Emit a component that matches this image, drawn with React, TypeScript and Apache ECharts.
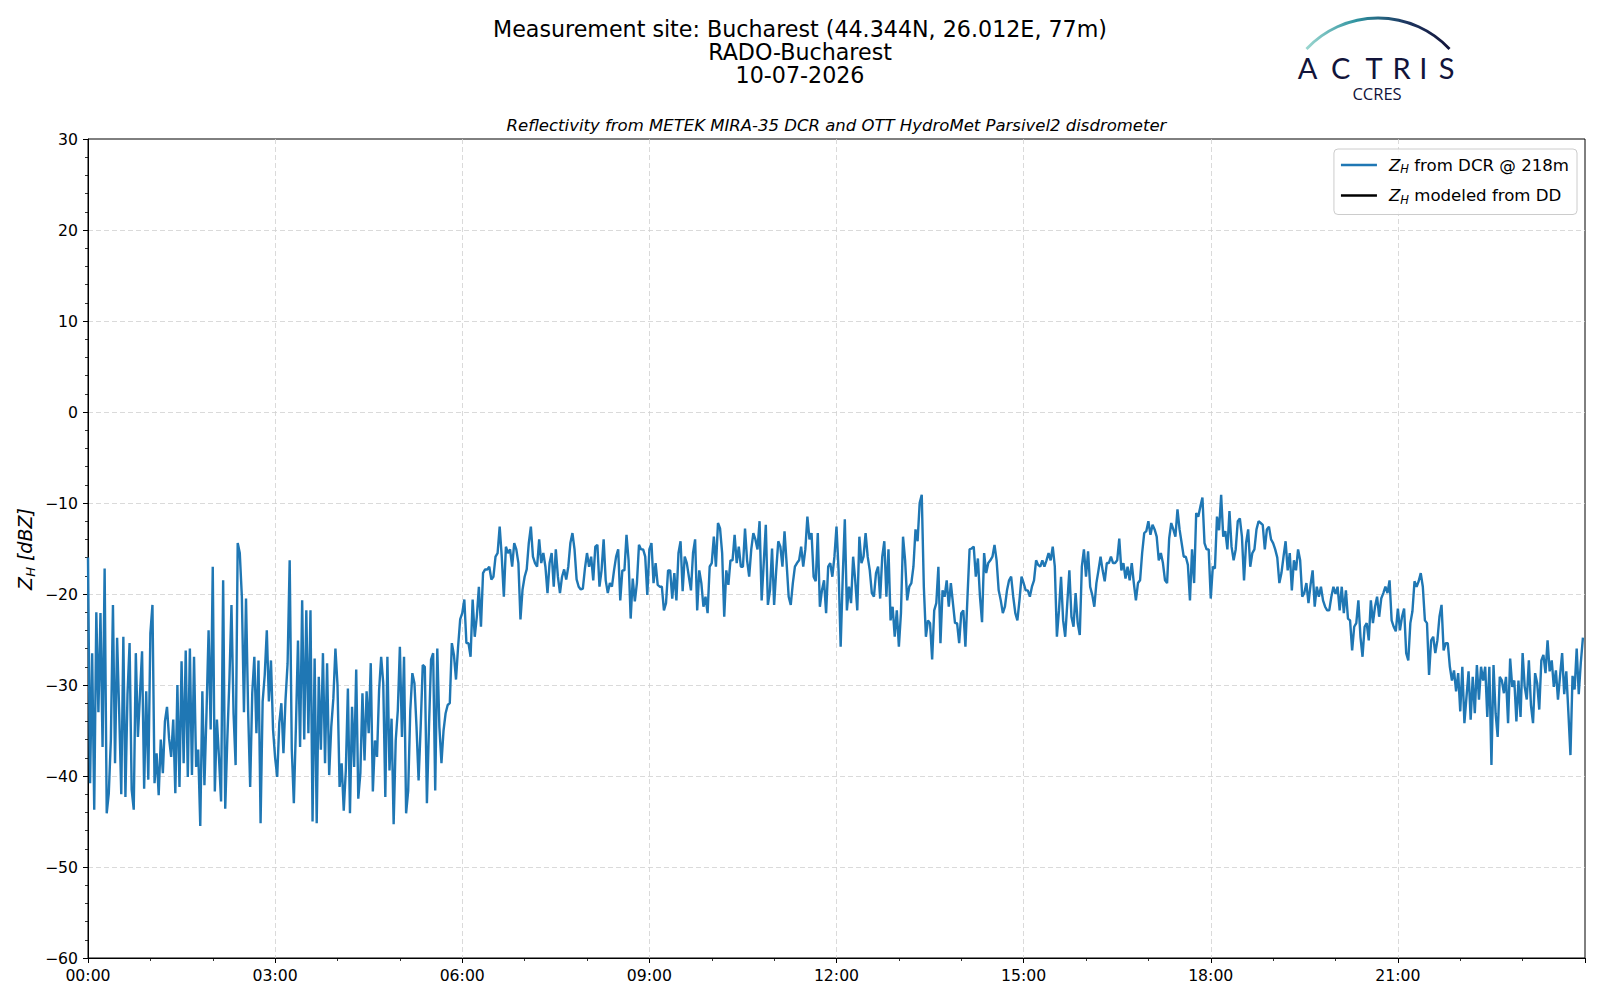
import React, { useEffect, useRef } from "react";
import * as echarts from "echarts";

// Reflectivity Z_H (dBZ), 2-minute steps, one array per hour
const H00 = [-16, -40.8, -26.5, -43.7, -22, -33, -22.1, -36.8, -17.2, -44.1, -41.9, -36, -21.2, -38.6, -24.8, -33, -42, -24.7, -42.3, -31, -25.4, -41.5, -43.7, -26.5, -35.7, -31, -26.3, -41.4, -30.7, -40.4];
const H01 = [-24.3, -21.2, -40.8, -37.5, -42.1, -36, -39.7, -34, -32.4, -35.9, -37.9, -33.8, -41.9, -30, -41.2, -27.4, -38.6, -26.2, -40.1, -26, -39.9, -26.9, -39, -37.1, -45.5, -30.7, -41, -33, -24, -34.9];
const H02 = [-17, -41.7, -33.8, -38, -42.8, -18.5, -43.6, -36, -29.5, -21.2, -33.1, -38.8, -14.4, -15.5, -20.3, -33, -20.5, -32.7, -41.2, -30.9, -26.9, -35.3, -27.3, -45.2, -31.8, -28.9, -24, -31.8, -27.3, -34.9];
const H03 = [-38, -40.1, -34.2, -32, -37.5, -31.6, -27.6, -16.3, -37, -43, -34.6, -25.1, -36.8, -20.7, -36, -21.8, -35.3, -21.8, -45, -27.1, -45.2, -29.1, -37.1, -26.5, -38.6, -27.6, -39.9, -34.6, -31.5, -26];
const H04 = [-30, -41.2, -38.6, -43.8, -39.4, -30.4, -44.1, -32.4, -39.0, -28.3, -42.5, -39.7, -30.9, -38.3, -30.7, -35.3, -27.6, -41.7, -36.1, -37.9, -30.6, -26.9, -29.8, -42.3, -26.9, -39.4, -33.7, -45.3, -36.1, -32.8];
const H05 = [-25.8, -35.7, -26.9, -44.1, -41.6, -32.8, -28.7, -29.8, -34.6, -40.5, -34.6, -27.8, -28.0, -43.0, -34.6, -27.2, -26.5, -41.6, -26.0, -34.6, -38.6, -35.0, -33.1, -32.2, -32.0, -25.4, -26.7, -29.4, -25.8, -22.8];
const H06 = [-22.1, -20.6, -25.4, -25.4, -26.9, -20.6, -24.7, -22.5, -19.2, -23.6, -17.7, -17.3, -17.3, -17.0, -18.4, -18.1, -15.9, -15.5, -12.6, -15.9, -20.3, -14.8, -15.5, -15.1, -17.0, -14.4, -15.1, -16.6, -22.8, -19.5];
const H07 = [-18.1, -17.3, -14.4, -12.6, -15.9, -16.6, -17.0, -14.0, -16.6, -15.5, -17.0, -19.9, -16.6, -15.5, -19.2, -15.1, -18.1, -19.9, -18.1, -17.3, -18.4, -17.0, -14.4, -13.3, -15.1, -18.4, -19.2, -19.5, -19.4, -17.2];
const H08 = [-15.5, -17.0, -15.9, -18.5, -14.8, -14.6, -19.2, -17.4, -14.0, -18.5, -19.9, -18.8, -19.2, -17.4, -15.9, -15.1, -20.7, -17.4, -17.4, -13.5, -16.3, -22.7, -18.3, -20.8, -18.8, -14.6, -15.1, -15.1, -15.9, -20.1];
const H09 = [-15.1, -14.4, -18.8, -16.6, -19.0, -19.2, -19.2, -21.8, -21.0, -17.4, -17.4, -20.5, -17.7, -20.7, -15.5, -14.2, -19.7, -15.9, -16.6, -18.1, -19.6, -15.5, -14.0, -21.8, -17.4, -18.8, -21.4, -20.3, -22.1, -17.0];
const H10 = [-16.6, -13.7, -17.0, -12.2, -12.8, -15.5, -22.5, -17.4, -19.0, -16.3, -16.3, -13.5, -16.6, -14.8, -17.0, -17.0, -12.8, -16.3, -18.1, -15.1, -13.3, -14.0, -15.1, -12.0, -20.7, -16.6, -12.4, -21.2, -19.6, -15.0];
const H11 = [-21.2, -17.4, -14.2, -14.8, -17.0, -13.1, -16.6, -20.3, -21.2, -18.8, -17.0, -16.6, -16.3, -14.8, -17.0, -15.1, -11.5, -14.0, -13.3, -18.1, -18.6, -13.3, -21.4, -19.6, -18.5, -22.1, -17.0, -16.6, -18.1, -15.9];
const H12 = [-12.6, -17.4, -25.8, -18.1, -11.8, -21.8, -19.2, -21.0, -15.9, -18.5, -21.8, -13.7, -16.6, -15.9, -13.3, -15.9, -17.4, -19.9, -20.3, -17.7, -17.0, -20.5, -15.9, -14.2, -20.3, -15.1, -22.9, -21.4, -24.7, -21.8];
const H13 = [-25.8, -22.1, -13.7, -16.3, -20.7, -19.2, -18.8, -17.0, -12.9, -14.2, -10.0, -9.1, -19.2, -24.7, -22.9, -23.2, -27.2, -21.8, -21.0, -17.0, -25.4, -19.6, -20.3, -18.5, -21.4, -18.8, -21.0, -23.2, -23.2, -25.4];
const H14 = [-22.1, -21.8, -25.8, -20.3, -15.1, -15.0, -14.8, -18.1, -16.1, -20.3, -23.1, -15.5, -17.7, -16.6, -16.3, -15.9, -14.6, -16.3, -19.6, -20.7, -22.1, -21.4, -19.6, -18.5, -18.1, -20.3, -22.1, -22.9, -20.7, -18.1];
const H15 = [-18.8, -19.6, -19.6, -20.3, -19.2, -18.5, -16.3, -16.8, -17.0, -16.3, -17.0, -16.3, -15.5, -16.3, -14.8, -17.0, -24.7, -21.8, -18.1, -22.9, -24.7, -21.0, -17.4, -22.5, -23.6, -19.9, -23.2, -24.5, -17.0, -15.1];
const H16 = [-18.1, -15.3, -19.2, -20.1, -21.4, -18.8, -17.4, -15.9, -17.4, -18.6, -16.6, -16.6, -15.9, -16.6, -16.6, -16.3, -13.9, -17.4, -16.6, -18.3, -17.0, -18.5, -16.6, -18.8, -20.7, -18.8, -18.5, -15.5, -13.3, -13.1];
const H17 = [-12.0, -13.5, -12.4, -12.9, -13.7, -16.3, -15.5, -16.6, -18.5, -18.8, -13.9, -12.2, -12.9, -13.7, -10.7, -12.9, -14.4, -15.9, -15.9, -16.8, -20.7, -15.1, -18.8, -11.1, -11.5, -10.4, -9.4, -14.4, -15.1, -15.1];
const H18 = [-20.5, -17.0, -17.2, -11.5, -13.0, -9.1, -13.7, -13.1, -15.1, -10.9, -14.8, -16.3, -15.1, -12.0, -11.7, -13.7, -18.5, -14.4, -12.9, -17.0, -15.5, -15.1, -12.9, -12.0, -12.2, -12.4, -15.1, -12.9, -12.6, -14.0];
const H19 = [-14.4, -15.1, -16.0, -18.8, -17.7, -15.9, -14.2, -17.4, -15.5, -19.6, -16.3, -17.4, -15.1, -16.3, -20.3, -19.9, -18.8, -21.0, -19.0, -17.4, -21.4, -19.2, -20.3, -19.2, -20.7, -21.4, -21.8, -21.8, -20.3, -19.2];
const H20 = [-20.0, -19.2, -21.8, -19.2, -22.1, -19.6, -22.7, -22.9, -26.2, -23.6, -23.2, -20.7, -24.7, -26.9, -23.6, -23.2, -25.1, -20.7, -23.2, -21.4, -20.3, -22.5, -20.5, -19.9, -19.2, -19.9, -18.5, -22.9, -23.6, -24.1];
const H21 = [-21.6, -24.0, -22.5, -21.6, -26.5, -27.3, -23.2, -21.9, -18.6, -19.2, -18.6, -17.7, -19.2, -22.9, -23.2, -28.9, -25.1, -24.7, -26.5, -25.1, -22.5, -21.2, -26.2, -25.4, -25.4, -28.0, -29.5, -28.4, -30.7, -28.7];
const H22 = [-32.9, -28.0, -34.2, -31.3, -28.5, -33.8, -29.1, -33.1, -27.8, -31.6, -28.0, -29.5, -28.0, -33.5, -28.0, -38.8, -27.8, -33.1, -35.7, -29.1, -29.5, -30.9, -29.1, -34.2, -27.1, -30.2, -29.5, -34.0, -29.5, -33.5];
const H23 = [-26.5, -30.2, -31.6, -27.3, -32.2, -34.2, -28.7, -29.8, -32.7, -27.3, -26.7, -28.7, -25.1, -28.5, -27.3, -30.2, -28.4, -31.6, -29.0, -26.5, -31.0, -28.5, -33.0, -37.7, -29.0, -30.5, -26.0, -31.0, -27.5, -24.8];

const HOURLY = [H00, H01, H02, H03, H04, H05, H06, H07, H08, H09, H10, H11, H12, H13, H14, H15, H16, H17, H18, H19, H20, H21, H22, H23];

// modeled reflectivity from the disdrometer: no values in the picture
const DD_VALUES: number[][] = [];

const TITLE_LINES = [
  "Measurement site: Bucharest (44.344N, 26.012E, 77m)",
  "RADO-Bucharest",
  "10-07-2026",
];
const SUBTITLE = "Reflectivity from METEK MIRA-35 DCR and OTT HydroMet Parsivel2 disdrometer";
const SERIES_DCR = "Z_H from DCR @ 218m";
const SERIES_DD = "Z_H modeled from DD";
const LEGEND_TEXT: Record<string, string> = {
  [SERIES_DCR]: "{z|Z}{s|H}{t| from DCR @ 218m}",
  [SERIES_DD]: "{z|Z}{s|H}{t| modeled from DD}",
};
const X_MIN = 0;
const X_MAX = 24;
const X_STEP = 3;
const Y_MIN = -60;
const Y_MAX = 30;
const Y_STEP = 10;

const FONT = "'DejaVu Sans', sans-serif";
const NAVY = "#12143a";

function buildDcr(): number[][] {
  const pts: number[][] = [];
  HOURLY.forEach((arr, h) => {
    arr.forEach((v, i) => pts.push([h + i / arr.length, v]));
  });
  return pts;
}

function fmtHour(v: number): string {
  if (v >= 24) return "";
  return String(v).padStart(2, "0") + ":00";
}

function fmtY(v: number): string {
  return v < 0 ? "\u2212" + Math.abs(v) : String(v);
}

export default function App() {
  const ref = useRef<HTMLDivElement>(null);

  useEffect(() => {
    if (!ref.current) return;
    const chart = echarts.init(ref.current, undefined, { renderer: "svg" });

    const arcGrad = new echarts.graphic.LinearGradient(0, 0, 1, 0, [
      { offset: 0, color: "#9ad6cf" },
      { offset: 0.35, color: "#2f93a0" },
      { offset: 0.7, color: "#1d3560" },
      { offset: 1, color: NAVY },
    ]);
    const barGrad = new echarts.graphic.LinearGradient(0, 0, 0, 1, [
      { offset: 0, color: "rgba(18,20,58,0)" },
      { offset: 0.4, color: NAVY },
      { offset: 1, color: NAVY },
    ]);

    const letters = [
      { ch: "A", x: 1307.5 },
      { ch: "C", x: 1340.7 },
      { ch: "T", x: 1374 },
      { ch: "R", x: 1401.7 },
      { ch: "I", x: 1423.3 },
      { ch: "S", x: 1446.7 },
    ];

    const gridLine = { show: true, showMinLine: false, showMaxLine: false, lineStyle: { color: "#d0d0d0", type: [5, 3], width: 0.8 } };

    const option: any = {
      animation: false,
      backgroundColor: "#ffffff",
      textStyle: { fontFamily: FONT },
      grid: {
        left: 88,
        right: 15,
        top: 139,
        bottom: 42,
        show: true,
        borderColor: "#000",
        borderWidth: 1,
        containLabel: false,
      },
      xAxis: {
        type: "value",
        min: X_MIN,
        max: X_MAX,
        interval: X_STEP,
        axisLine: { show: true, onZero: false, lineStyle: { color: "#000", width: 1 } },
        axisTick: { show: true, length: 5, lineStyle: { color: "#000", width: 1 } },
        minorTick: { show: true, splitNumber: 3, length: 3, lineStyle: { color: "#000", width: 0.8 } },
        splitLine: gridLine,
        minorSplitLine: { show: false },
        axisLabel: { margin: 9, formatter: fmtHour, color: "#000", fontSize: 15.7, fontFamily: FONT },
      },
      yAxis: {
        type: "value",
        min: Y_MIN,
        max: Y_MAX,
        interval: Y_STEP,
        axisLine: { show: true, onZero: false, lineStyle: { color: "#000", width: 1 } },
        axisTick: { show: true, length: 5, lineStyle: { color: "#000", width: 1 } },
        minorTick: { show: true, splitNumber: 5, length: 3, lineStyle: { color: "#000", width: 0.8 } },
        splitLine: gridLine,
        axisLabel: { margin: 10, formatter: fmtY, color: "#000", fontSize: 15.7, fontFamily: FONT },
      },
      legend: {
        orient: "vertical",
        right: 23,
        top: 149,
        data: [SERIES_DCR, SERIES_DD],
        formatter: (name: string) => LEGEND_TEXT[name] || name,
        icon: "rect",
        itemWidth: 36,
        itemHeight: 2.5,
        itemGap: 12,
        padding: [7.5, 8, 9, 7],
        backgroundColor: "rgba(255,255,255,0.85)",
        borderColor: "#cccccc",
        borderWidth: 1,
        borderRadius: 4,
        textStyle: {
          color: "#000",
          fontFamily: FONT,
          fontSize: 16.6,
          rich: {
            z: { fontStyle: "italic", fontSize: 16.6, fontFamily: FONT, lineHeight: 20, verticalAlign: "middle", padding: [0, 0, 0, 7], color: "#000" },
            s: { fontStyle: "italic", fontSize: 11.5, fontFamily: FONT, lineHeight: 20, verticalAlign: "bottom", color: "#000" },
            t: { fontSize: 16.6, fontFamily: FONT, lineHeight: 20, verticalAlign: "middle", color: "#000" },
          },
        },
      },
      series: [
        {
          name: SERIES_DCR,
          type: "line",
          data: buildDcr(),
          showSymbol: false,
          symbol: "none",
          color: "#1f77b4",
          itemStyle: { color: "#1f77b4" },
          lineStyle: { color: "#1f77b4", width: 2.4 },
          z: 3,
        },
        {
          name: SERIES_DD,
          type: "line",
          data: DD_VALUES,
          showSymbol: false,
          symbol: "none",
          color: "#000000",
          itemStyle: { color: "#000000" },
          lineStyle: { color: "#000000", width: 2.4 },
          z: 4,
        },
      ],
      graphic: [
        ...TITLE_LINES.map((t, i) => ({
          type: "text",
          silent: true,
          x: 800,
          y: 29 + i * 23,
          style: {
            text: t,
            font: `22.2px ${FONT}`,
            fill: "#000",
            align: "center",
            verticalAlign: "middle",
            textAlign: "center",
            textVerticalAlign: "middle",
          },
        })),
        {
          type: "text",
          silent: true,
          x: 836.5,
          y: 125,
          style: {
            text: SUBTITLE,
            font: `italic 16.5px ${FONT}`,
            fill: "#000",
            align: "center",
            verticalAlign: "middle",
            textAlign: "center",
            textVerticalAlign: "middle",
          },
        },
        {
          type: "text",
          silent: true,
          x: 25,
          y: 549,
          rotation: Math.PI / 2,
          style: {
            text: "{z|Z}{s|H}{t| [dBZ]}",
            align: "center",
            verticalAlign: "middle",
            textAlign: "center",
            textVerticalAlign: "middle",
            rich: {
              z: { fontStyle: "italic", fontSize: 19, fontFamily: FONT, lineHeight: 24, verticalAlign: "middle", fill: "#000" },
              s: { fontStyle: "italic", fontSize: 13, fontFamily: FONT, lineHeight: 24, verticalAlign: "bottom", fill: "#000" },
              t: { fontStyle: "italic", fontSize: 19, fontFamily: FONT, lineHeight: 24, verticalAlign: "middle", fill: "#000" },
            },
          },
        },
        // ACTRIS logo
        {
          type: "arc",
          silent: true,
          shape: { cx: 1378, cy: 116, r: 98, startAngle: -Math.PI / 2 - 0.818, endAngle: -Math.PI / 2 + 0.818, clockwise: true },
          style: { stroke: arcGrad, lineWidth: 2.8, fill: null },
        },
        {
          type: "line",
          silent: true,
          shape: { x1: 1423.3, y1: 1, x2: 1423.3, y2: 53 },
          style: { stroke: barGrad, lineWidth: 2.6 },
        },
        ...letters.map((l) => ({
          type: "text",
          silent: true,
          x: l.x,
          y: 67,
          style: {
            text: l.ch,
            font: `29px Lato, 'Noto Sans', sans-serif`,
            fill: NAVY,
            align: "center",
            verticalAlign: "middle",
            textAlign: "center",
            textVerticalAlign: "middle",
          },
        })),
        {
          type: "text",
          silent: true,
          x: 1377,
          y: 93.5,
          style: {
            text: "CCRES",
            font: `16.5px 'Open Sans', sans-serif`,
            fill: NAVY,
            align: "center",
            verticalAlign: "middle",
            textAlign: "center",
            textVerticalAlign: "middle",
          },
        },
      ],
    };

    chart.setOption(option);
    return () => chart.dispose();
  }, []);

  return (
    <div
      ref={ref}
      style={{ position: "fixed", left: 0, top: 0, width: "1600px", height: "1000px", background: "#fff" }}
    />
  );
}
